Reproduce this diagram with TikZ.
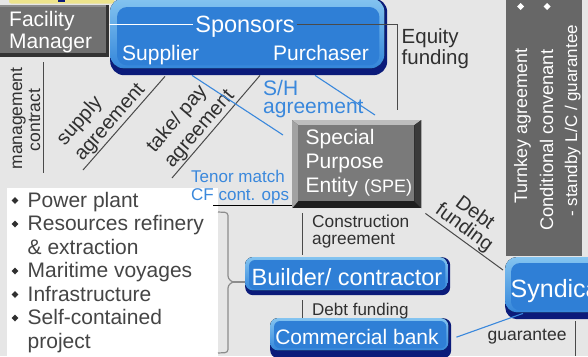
\documentclass[tikz,border=0pt]{standalone}
\usepackage{fontspec}
\setmainfont{Liberation Sans}
\usetikzlibrary{calc}
\definecolor{bgc}{HTML}{E6E6E6}
\definecolor{ink}{HTML}{303030}
\definecolor{linkblue}{HTML}{3A88DC}
\definecolor{bnavy}{HTML}{0B1B7A}
\definecolor{blight}{HTML}{84C4F0}
\definecolor{bmid}{HTML}{3486DA}
\definecolor{bface}{HTML}{2F7FD6}
\definecolor{panelc}{HTML}{676767}
\definecolor{speface}{HTML}{7A7A7A}
\definecolor{spetop}{HTML}{BDBDBD}
\definecolor{speleft}{HTML}{A2A2A2}
\definecolor{speright}{HTML}{3A3A3A}
\definecolor{fmface}{HTML}{707070}
\definecolor{fmtop}{HTML}{8E8E8E}
\definecolor{linegray}{HTML}{4A4A4A}
\definecolor{yel}{HTML}{EDE48C}
\newcommand\fs[2]{\fontsize{#1}{#2}\selectfont}

\begin{document}
\begin{tikzpicture}[x=1pt,y=-1pt,
  txt/.style={inner sep=0pt, text=ink},
  wtxt/.style={inner sep=0pt, text=white},
  btxt/.style={inner sep=0pt, text=linkblue},
  outerblue/.style={inner sep=0pt, fill=bnavy, rounded corners=#1},
  link/.style={draw=linegray, line width=1pt},
  bluelink/.style={draw=linkblue, line width=1.1pt},
  brace/.style={draw=gray!90, line width=1.2pt, rounded corners=3pt},
]
\useasboundingbox (0,0) rectangle (588,356);
\clip (0,0) rectangle (588,356);
\fill[bgc] (0,0) rectangle (588,356);

% strip at the top edge
\fill[yel, rounded corners=2pt] (9,-3) rectangle (114,3.5);
\fill[bnavy] (58,-1) rectangle (65,1.5);

% right-hand panel
\node[fill=panelc, inner sep=0pt, anchor=north west, minimum width=76pt, minimum height=256pt] (pnl) at (506,0) {};
\node[wtxt, rotate=90, anchor=base west, font={\fs{18}{18}}] (tk) at (527,204) {Turnkey agreement};
\node[wtxt, rotate=90, anchor=base west, font={\fs{18.3}{18}}] (cc) at (553,231) {Conditional convenant};
\node[wtxt, rotate=90, anchor=base west, font={\fs{17}{17}}] (sb) at (577,217) {- standby L/C / guarantee};
\fill[white] (520.5,3) -- (524,6.5) -- (520.5,10) -- (517,6.5) -- cycle;
\fill[white] (547,3) -- (550.5,6.5) -- (547,10) -- (543.5,6.5) -- cycle;

% facility manager
\node[inner sep=0pt, fill=black!80, anchor=north west, minimum width=109pt, minimum height=52pt] (fm) at (0,4.5) {};
\fill[fmface] (fm.north west) rectangle ($(fm.south east)+(-3,-4)$);
\fill[fmtop] (fm.north west) rectangle ($(fm.north east)+(-3,2.5)$);
\node[wtxt, anchor=base west, font={\fs{21}{21}}] (fm1) at (9,26) {Facility};
\node[wtxt, anchor=base west, font={\fs{21}{21}}] (fm2) at (9,48) {Manager};

% sponsors
\node[outerblue=14pt, anchor=north west, minimum width=277pt, minimum height=77pt] (spons) at (110,-2) {};
\fill[top color=blight, bottom color=bmid, rounded corners=14pt] (spons.north west) rectangle ($(spons.south east)+(-3,-7)$);
\fill[bface, rounded corners=10pt] ($(spons.north west)+(7,9)$) rectangle ($(spons.south east)+(-8,-10)$);
\node[wtxt, anchor=base, font={\fs{23.5}{23.5}}] (sptxt) at (245,32) {Sponsors};
\node[wtxt, anchor=base west, font={\fs{21}{21}}] (supp) at (122,60) {Supplier};
\node[wtxt, anchor=base east, font={\fs{21}{21}}] (purch) at (369,60) {Purchaser};

\coordinate (spl) at ([xshift=-2pt,yshift=2pt]sptxt.west);
\coordinate (spr) at ([xshift=2pt,yshift=2pt]sptxt.east);
\draw[white, line width=1.2pt] (fm.east |- spl) -- (spl);
\coordinate (eqend) at (397,110);
\draw[link] (spr) -| (eqend);
\node[txt, anchor=base west, font={\fs{20.5}{20.5}}] (eq1) at (401.5,43) {Equity};
\node[txt, anchor=base west, font={\fs{20.5}{20.5}}] (eq2) at (401.5,64) {funding};

% management contract
\coordinate (mc1) at (43,62);
\coordinate (mc2) at (43,173);
\draw[link] (mc1) -- (mc2);
\node[txt, rotate=90, anchor=base, font={\fs{17.5}{17.5}}] (mg) at (22,118.5) {management};
\node[txt, rotate=90, anchor=base, font={\fs{17.5}{17.5}}] (ct) at (40,120) {contract};

% diagonal agreements
\coordinate (sa1) at (83,170);
\coordinate (sa2) at ($(spons.south west)+(55,1)$);
\draw[link] (sa1) -- node[sloped, above, pos=0.43, txt, align=left, inner sep=1pt, font={\fs{20}{23.5}}] (salab) {supply\\agreement} (sa2);
\coordinate (tp1) at (172,178);
\coordinate (tp2) at ($(spons.south west)+(150,0)$);
\draw[link] (tp1) -- node[sloped, above, pos=0.41, txt, align=left, inner sep=1pt, font={\fs{20}{23.5}}] (tplab) {take/ pay\\agreement} (tp2);

% shareholder links
\node[btxt, anchor=base west, font={\fs{21}{21}}] (sh1) at (263,95) {S/H};
\node[btxt, anchor=base west, font={\fs{21}{21}}] (sh2) at (263,113) {agreement};
\coordinate (bl1a) at ($(spons.south west)+(82,0)$);
\coordinate (bl1b) at (283,135);
\coordinate (bl2a) at ($(spons.south west)+(205,0)$);
\coordinate (bl2b) at (375,115);
\draw[bluelink] (bl1a) -- (bl1b);
\draw[bluelink] (bl2a) -- (bl2b);

% special purpose entity
\node[inner sep=0pt, fill=black!88, anchor=north west, minimum width=129pt, minimum height=88pt] (spe) at (292,120) {};
\fill[spetop] (spe.north west) -- (spe.north east) -- ($(spe.north east)+(-7,5)$) -- ($(spe.north west)+(6,5)$) -- cycle;
\fill[speleft] (spe.north west) -- ($(spe.north west)+(6,5)$) -- ($(spe.south west)+(6,-7)$) -- (spe.south west) -- cycle;
\fill[speright] (spe.north east) -- (spe.south east) -- ($(spe.south east)+(-7,-7)$) -- ($(spe.north east)+(-7,5)$) -- cycle;
\fill[speface] ($(spe.north west)+(6,5)$) rectangle ($(spe.south east)+(-7,-7)$);
\node[wtxt, anchor=base west, font={\fs{21}{21}}] (spe1) at (305.5,144) {Special};
\node[wtxt, anchor=base west, font={\fs{21}{21}}] (spe2) at (305.5,168) {Purpose};
\node[wtxt, anchor=base west, font={\fs{21}{21}}] (spe3) at (305.5,192) {Entity {\fs{18}{18}(SPE)}};

% project list
\node[fill=white, inner sep=0pt, anchor=north west, minimum width=211pt, minimum height=170pt] (list) at (7,188) {};
\foreach \yy/\itm in {207/Power plant, 230.5/Resources refinery, 254/\& extraction, 277.5/Maritime voyages, 301/Infrastructure, 324.5/Self-contained, 348/project}
  \node[txt, text=ink!90, anchor=base west, font={\fs{21}{21}}] at (27.5,\yy) {\itm};
\foreach \yy in {207,230.5,277.5,301,324.5}
  \fill[ink] (15,\yy-10) -- (18.4,\yy-6.5) -- (15,\yy-3) -- (11.6,\yy-6.5) -- cycle;

% tenor note
\node[btxt, anchor=base west, font={\fs{17}{17}}] (tn1) at (191,182) {Tenor match};
\node[btxt, anchor=base west, font={\fs{17}{17}}] (tn2) at (191,200) {CF cont. ops};
\coordinate (ul) at (213,205);
\draw[black, line width=1pt] (ul) -- (ul -| spe.west);

% builder / contractor
\node[outerblue=8pt, anchor=north west, minimum width=205pt, minimum height=38pt] (builder) at (245,257) {};
\fill[top color=blight, bottom color=bmid, rounded corners=8pt] (builder.north west) rectangle ($(builder.south east)+(-3,-5)$);
\fill[bface, rounded corners=6pt] ($(builder.north west)+(4,3)$) rectangle ($(builder.south east)+(-5,-6)$);
\node[wtxt, anchor=base, font={\fs{23.5}{23.5}}] (bt) at (347,285) {Builder/ contractor};

% bracket joining the list to the builder
\coordinate (brtip) at (233,282);
\coordinate (brtop) at (218,212);
\coordinate (brbot) at (218,353);
\draw[brace] (brtop) -- (228,212.5) -- (228,279) -- (brtip);
\draw[brace] (brtip) -- (228,285) -- (228,352.5) -- (brbot);
\draw[draw=gray!90, line width=1.2pt] (brtip) -- (builder.west |- brtip);

% construction agreement
\coordinate (ca1) at (302,213);
\coordinate (ca4) at ([yshift=2pt]ca1 |- builder.north);
\draw[link] (ca1) -- (ca4);
\node[txt, anchor=base west, font={\fs{17.3}{17.3}}] (ca2) at (312,227) {Construction};
\node[txt, anchor=base west, font={\fs{17.3}{17.3}}] (ca3) at (312,244) {agreement};

% commercial bank
\node[outerblue=8pt, anchor=north west, minimum width=181pt, minimum height=40pt] (cb) at (270,318) {};
\fill[top color=blight, bottom color=bmid, rounded corners=8pt] (cb.north west) rectangle ($(cb.south east)+(-3,-8)$);
\fill[bface, rounded corners=6pt] ($(cb.north west)+(4,3)$) rectangle ($(cb.south east)+(-5,-10)$);
\node[wtxt, anchor=base, font={\fs{21}{21}}] (cbt) at (357,344) {Commercial bank};

\coordinate (df1) at (302,300);
\draw[link] (df1) -- (df1 |- cb.north);
\node[txt, anchor=base west, font={\fs{17}{17}}] (dft) at (312,315) {Debt funding};

% syndicate
\node[outerblue=12pt, anchor=north west, minimum width=100pt, minimum height=62pt] (syn) at (505,257) {};
\fill[top color=blight, bottom color=bmid, rounded corners=12pt] (syn.north west) rectangle ($(syn.south east)+(-3,-7)$);
\fill[bface, rounded corners=9pt] ($(syn.north west)+(6,6)$) rectangle ($(syn.south east)+(-3,-9)$);
\node[wtxt, anchor=base west, font={\fs{25}{25}}] (syt) at (510.5,297) {Syndicate};

\coordinate (dfa) at ($(spe.south east)+(4,5)$);
\coordinate (dfb) at ($(syn.north west)+(-2,13)$);
\draw[link] (dfa) -- node[sloped, above, pos=0.415, txt, align=center, inner sep=1pt, font={\fs{20}{18}}] (dflab) {Debt\\funding} (dfb);

\coordinate (cbout) at ([xshift=5pt,yshift=1pt]cb.east);
\coordinate (synend) at ($(syn.south west)+(18,-6)$);
\draw[bluelink] (cbout) -- (synend);

\node[txt, anchor=base west, font={\fs{17.5}{17.5}}] (gt) at (487.5,340) {guarantee};
\coordinate (gu1) at (575,321);
\coordinate (gu2) at (575,356);
\draw[link] (gu1) -- (gu2);
\end{tikzpicture}
\end{document}
